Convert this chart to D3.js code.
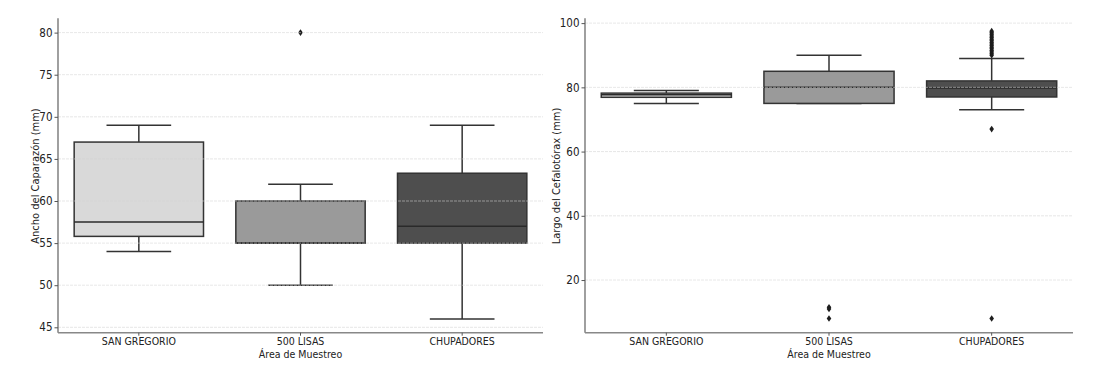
<!DOCTYPE html>
<html><head><meta charset="utf-8">
<script src="https://cdn.jsdelivr.net/npm/d3@7/dist/d3.min.js"></script>
<style>
body{margin:0;background:#fff;}
text{font-family:"DejaVu Sans Condensed","DejaVu Sans",sans-serif;fill:#222;}
</style></head>
<body><svg id="c" width="1096" height="365"></svg>
<script>
const categories = ["SAN GREGORIO", "500 LISAS", "CHUPADORES"];
const boxColors = ["#d9d9d9", "#9a9a9a", "#4e4e4e"];

// Ancho del Caparazón (mm)
const anchoLo  = [54, 50, 46];
const anchoQ1  = [55.8, 55, 55];
const anchoMed = [57.5, 55, 57];
const anchoQ3  = [67, 60, 63.3];
const anchoHi  = [69, 62, 69];
const anchoOut = [[], [80], []];
const anchoTicks = [45, 50, 55, 60, 65, 70, 75, 80];

// Largo del Cefalotórax (mm)
const largoLo  = [75, 75, 73];
const largoQ1  = [76.9, 75, 77];
const largoMed = [77.7, 80, 79.8];
const largoQ3  = [78.2, 85, 82];
const largoHi  = [79, 90, 89];
const largoOut = [[], [11.5, 11, 8], [67, 8, 90, 90.5, 91, 91.5, 92, 92.5, 93, 93.5, 94, 94.5, 95, 95.5, 96, 96.5, 97, 97.5]];
const largoTicks = [20, 40, 60, 80, 100];

const svg = d3.select("#c");

function panel(opt) {
  const g = svg.append("g");
  const x = d3.scaleBand().domain(categories).range([opt.x0, opt.x1]).padding(0);
  const y = d3.scaleLinear().domain(opt.domain).range([332.7, 18.3]);
  const bw = x.bandwidth() * 0.8;
  const data = categories.map((c, i) => ({
    c, i, lo: opt.lo[i], q1: opt.q1[i], med: opt.med[i], q3: opt.q3[i], hi: opt.hi[i], out: opt.out[i]
  }));

  const boxes = g.append("g");
  data.forEach(d => {
    const cx = x(d.c) + x.bandwidth() / 2;
    const b = boxes.append("g");
    b.append("line").attr("x1", cx).attr("x2", cx).attr("y1", y(d.q3)).attr("y2", y(d.hi))
      .attr("stroke", "#333").attr("stroke-width", 1.5);
    b.append("line").attr("x1", cx).attr("x2", cx).attr("y1", y(d.q1)).attr("y2", y(d.lo))
      .attr("stroke", "#333").attr("stroke-width", 1.5);
    b.append("line").attr("x1", cx - bw / 4).attr("x2", cx + bw / 4).attr("y1", y(d.hi)).attr("y2", y(d.hi))
      .attr("stroke", "#333").attr("stroke-width", 1.5);
    b.append("line").attr("x1", cx - bw / 4).attr("x2", cx + bw / 4).attr("y1", y(d.lo)).attr("y2", y(d.lo))
      .attr("stroke", "#333").attr("stroke-width", 1.5);
    b.append("rect").attr("x", cx - bw / 2).attr("width", bw)
      .attr("y", y(d.q3)).attr("height", Math.max(0.5, y(d.q1) - y(d.q3)))
      .attr("fill", boxColors[d.i]).attr("stroke", "#333").attr("stroke-width", 1.5);
    b.append("line").attr("x1", cx - bw / 2).attr("x2", cx + bw / 2).attr("y1", y(d.med)).attr("y2", y(d.med))
      .attr("stroke", "#2a2a2a").attr("stroke-width", 1.5);
    b.selectAll("path.o").data(d.out).enter().append("path")
      .attr("d", v => { const py = y(v); return `M${cx},${py - 3.3}L${cx + 2.3},${py}L${cx},${py + 3.3}L${cx - 2.3},${py}Z`; })
      .attr("fill", "#1e1e1e");
  });

  g.append("g").selectAll("line").data(opt.ticks).enter().append("line")
    .attr("x1", opt.x0).attr("x2", opt.x1).attr("y1", d => y(d)).attr("y2", d => y(d))
    .attr("stroke", "#d4d4d4").attr("stroke-opacity", 0.55).attr("stroke-width", 1)
    .attr("stroke-dasharray", "3,1");

  const ya = g.append("g").attr("transform", `translate(${opt.x0},0)`)
    .call(d3.axisLeft(y).tickValues(opt.ticks).tickSize(3.5).tickPadding(2).tickFormat(d3.format("d")));
  ya.select(".domain").attr("stroke", "#777").attr("stroke-width", 1.4).attr("d", `M0,18.3V332.7`);
  ya.selectAll(".tick line").attr("stroke", "#555");
  ya.selectAll(".tick text").attr("font-size", 11.5).attr("fill", "#222")
    .style("font-family", "'DejaVu Sans Condensed','DejaVu Sans',sans-serif");

  const xa = g.append("g").attr("transform", "translate(0,332.7)")
    .call(d3.axisBottom(x).tickSize(3).tickPadding(2));
  xa.select(".domain").attr("stroke", "#888").attr("stroke-width", 1.6).attr("d", `M${opt.x0},0H${opt.x1}`);
  xa.selectAll(".tick line").attr("stroke", "#555");
  xa.selectAll(".tick text").attr("font-size", 10.5).attr("fill", "#222")
    .style("font-family", "'DejaVu Sans Condensed','DejaVu Sans',sans-serif");

  g.append("text").attr("x", (opt.x0 + opt.x1) / 2).attr("y", 358).attr("text-anchor", "middle")
    .attr("font-size", 10.5).text("Área de Muestreo");
  g.append("text").attr("transform", `translate(${opt.labelX},176) rotate(-90)`).attr("text-anchor", "middle")
    .attr("font-size", 11).text(opt.ylabel);
}

panel({ x0: 58, x1: 543, domain: [44.36, 81.7], lo: anchoLo, q1: anchoQ1, med: anchoMed, q3: anchoQ3, hi: anchoHi,
        out: anchoOut, ticks: anchoTicks, ylabel: "Ancho del Caparazón (mm)", labelX: 39 });
panel({ x0: 585, x1: 1073, domain: [3.6, 101.5], lo: largoLo, q1: largoQ1, med: largoMed, q3: largoQ3, hi: largoHi,
        out: largoOut, ticks: largoTicks, ylabel: "Largo del Cefalotórax (mm)", labelX: 560 });
</script></body></html>
